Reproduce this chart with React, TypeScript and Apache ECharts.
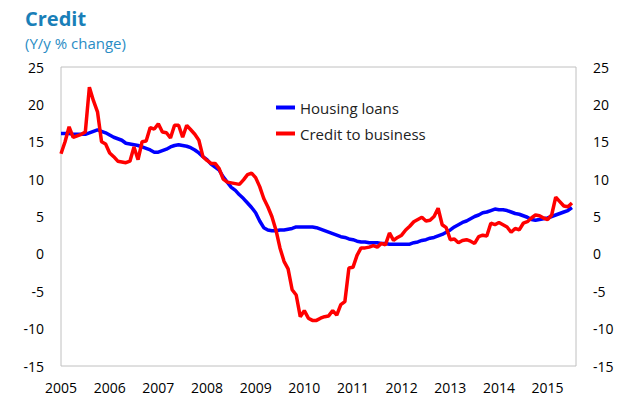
import React, { useEffect, useRef } from "react";
import * as echarts from "echarts";

const startYear = 2005;
const yTicks = [-15, -10, -5, 0, 5, 10, 15, 20, 25];

const housingLoans = [
  16.1, 16.1, 16.1, 16.0, 16.0, 16.0, 16.0, 16.2, 16.4, 16.6, 16.4, 16.2,
  15.9, 15.6, 15.4, 15.2, 14.8, 14.7, 14.6, 14.5, 14.3, 14.1, 13.9, 13.6,
  13.6, 13.8, 14.0, 14.3, 14.5, 14.6, 14.5, 14.4, 14.2, 13.9, 13.5, 13.0,
  12.6, 12.0, 11.6, 11.2, 10.3, 9.6, 8.9, 8.5, 7.9, 7.4, 6.8, 6.2,
  5.5, 4.4, 3.5, 3.2, 3.1, 3.1, 3.2, 3.2, 3.3, 3.4, 3.6, 3.6,
  3.6, 3.6, 3.6, 3.5, 3.3, 3.1, 2.9, 2.7, 2.5, 2.3, 2.2, 2.0,
  1.9, 1.7, 1.6, 1.6, 1.5, 1.5, 1.5, 1.4, 1.4, 1.3, 1.3, 1.3,
  1.3, 1.3, 1.3, 1.5, 1.6, 1.8, 1.9, 2.1, 2.2, 2.4, 2.6, 2.9,
  3.2, 3.6, 3.9, 4.2, 4.4, 4.7, 5.0, 5.2, 5.5, 5.6, 5.8, 6.0,
  5.9, 5.9, 5.8, 5.6, 5.4, 5.3, 5.1, 4.9, 4.6, 4.5, 4.6, 4.7,
  4.8, 5.0, 5.2, 5.4, 5.6, 5.8, 6.2,
];

const creditToBusiness = [
  13.4, 15.0, 17.0, 15.6, 15.8, 16.0, 16.3, 22.3, 20.5, 19.0, 15.0, 14.7,
  13.5, 13.0, 12.4, 12.3, 12.2, 12.4, 14.3, 12.6, 15.0, 15.1, 16.9, 16.7,
  17.4, 16.3, 16.2, 15.5, 17.2, 17.2, 15.6, 17.2, 16.6, 16.0, 15.2, 13.0,
  12.5, 12.1, 12.1, 11.4, 10.0, 9.6, 9.5, 9.4, 9.3, 9.9, 10.6, 10.8,
  10.2, 9.0, 7.4, 6.3, 5.0, 3.2, 0.8, -1.0, -2.0, -4.8, -5.5, -8.4,
  -7.6, -8.6, -8.9, -8.9, -8.6, -8.4, -8.3, -7.6, -8.2, -6.8, -6.4, -1.9,
  -1.8, -0.2, 0.8, 0.8, 0.9, 1.1, 0.9, 1.4, 1.2, 2.8, 1.8, 2.2,
  2.5, 3.2, 3.7, 4.3, 4.6, 4.9, 4.4, 4.5, 5.0, 6.1, 3.9, 3.5,
  1.9, 2.0, 1.5, 1.8, 1.9, 1.7, 1.4, 2.3, 2.5, 2.4, 4.1, 3.9,
  4.2, 3.9, 3.6, 2.9, 3.4, 3.2, 4.1, 4.3, 4.8, 5.2, 5.1, 4.8,
  4.6, 5.2, 7.6, 7.0, 6.4, 6.3, 6.8,
];

const FONT = "'Open Sans', 'Noto Sans', sans-serif";

export default function App() {
  const ref = useRef<HTMLDivElement>(null);

  useEffect(() => {
    document.body.style.margin = "0";
    if (!ref.current) return;
    const chart = echarts.init(ref.current, undefined, { renderer: "svg" });
    const yMin = yTicks[0];
    const yMax = yTicks[yTicks.length - 1];
    const yInterval = yTicks[1] - yTicks[0];
    const yAxisCommon = {
      type: "value" as const,
      min: yMin,
      max: yMax,
      interval: yInterval,
      axisLine: { show: false },
      axisTick: { show: false },
      splitLine: { show: false },
      axisLabel: { color: "#000", fontSize: 14, fontFamily: FONT, margin: 17 },
    };
    chart.setOption({
      animation: false,
      backgroundColor: "#fff",
      title: [
        {
          text: "Credit",
          left: 20,
          top: 3,
          textStyle: { color: "#1a7fb8", fontSize: 20, fontWeight: "bold", fontFamily: FONT },
        },
        {
          text: "(Y/y % change)",
          left: 20,
          top: 30,
          textStyle: { color: "#2a8cc4", fontSize: 15, fontWeight: "normal", fontFamily: FONT },
        },
      ],
      legend: {
        orient: "vertical",
        left: 276,
        top: 100,
        padding: 0,
        icon: "rect",
        itemWidth: 19,
        itemHeight: 4,
        itemGap: 11,
        textStyle: { color: "#222", fontSize: 15, fontFamily: FONT },
        data: ["Housing loans", "Credit to business"],
      },
      grid: {
        left: 61,
        right: 45,
        top: 67,
        bottom: 34,
        show: true,
        borderColor: "#c0c0c0",
        borderWidth: 1,
        containLabel: false,
      },
      xAxis: {
        type: "value",
        min: 0,
        max: housingLoans.length,
        interval: 12,
        axisLine: { show: false },
        axisTick: { show: false },
        splitLine: { show: false },
        axisLabel: {
          color: "#000",
          fontSize: 14,
          fontFamily: FONT,
          margin: 14,
          formatter: (v: number) => (v % 12 === 0 ? String(startYear + v / 12) : ""),
        },
      },
      yAxis: [
        { ...yAxisCommon, position: "left" },
        { ...yAxisCommon, position: "right" },
      ],
      series: [
        {
          name: "Housing loans",
          type: "line",
          yAxisIndex: 0,
          symbol: "none",
          color: "#0000ff",
          lineStyle: { color: "#0000ff", width: 3.5 },
          data: housingLoans.map((v, i) => [i, v]),
        },
        {
          name: "Credit to business",
          type: "line",
          yAxisIndex: 0,
          symbol: "none",
          color: "#ff0000",
          lineStyle: { color: "#ff0000", width: 3.5 },
          data: creditToBusiness.map((v, i) => [i, v]),
        },
      ],
    });
    return () => chart.dispose();
  }, []);

  return <div ref={ref} style={{ width: 621, height: 400 }} />;
}
